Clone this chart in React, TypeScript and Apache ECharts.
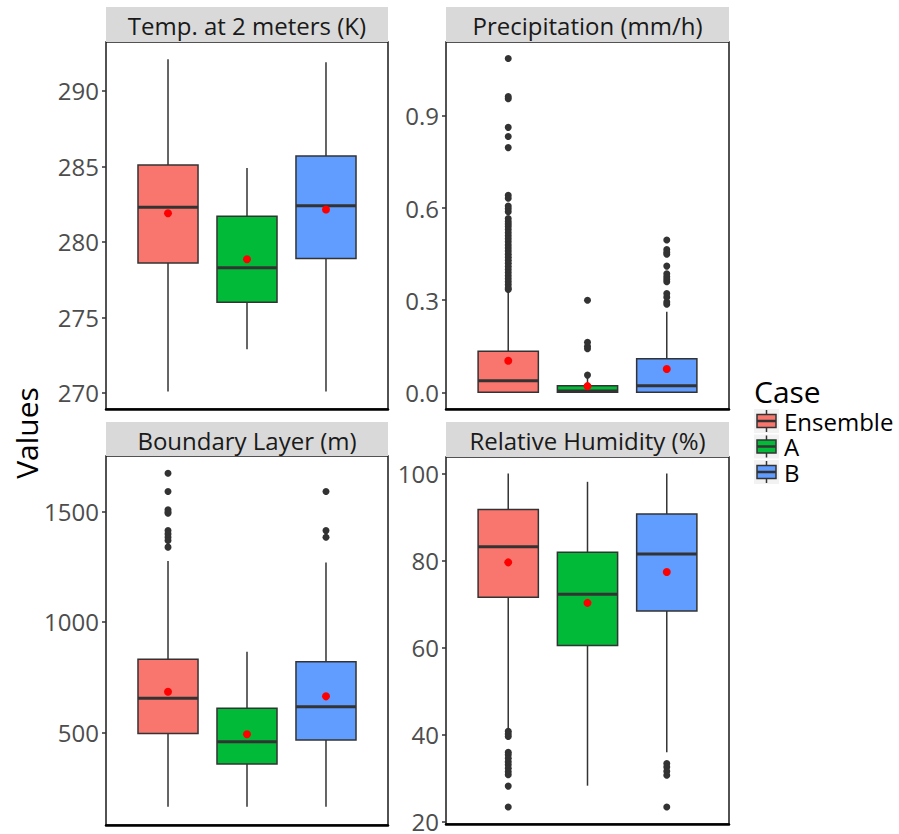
import React, { useEffect, useRef } from "react";
import * as echarts from "echarts";

// ---------- data ----------
const cases = ["Ensemble", "A", "B"];
const caseColors = ["#F8766D", "#00BA38", "#619CFF"];
const panelTitles = [
  "Temp. at 2 meters (K)",
  "Precipitation (mm/h)",
  "Boundary Layer (m)",
  "Relative Humidity (%)",
];

// [lower whisker, Q1, median, Q3, upper whisker] for Ensemble, A, B
const tempStats = [
  [270.1, 278.6, 282.3, 285.1, 292.1],
  [272.9, 276.0, 278.3, 281.7, 284.9],
  [270.1, 278.9, 282.4, 285.7, 291.9],
];
const tempMeans = [281.9, 278.85, 282.15];
const tempOutliers: number[][] = [[], [], []];
const tempTicks = [270, 275, 280, 285, 290];
const tempRange = [268.94, 293.24];

const precipStats = [
  [0, 0, 0.038, 0.134, 0.33],
  [0, 0, 0.004, 0.021, 0.05],
  [0, 0, 0.021, 0.109, 0.262],
];
const precipMeans = [0.103, 0.02, 0.076];
const precipOutliers: number[][] = [
  [1.087, 0.963, 0.956, 0.863, 0.833, 0.797, 0.642, 0.632, 0.607, 0.598, 0.588,
    0.566, 0.556, 0.548, 0.54, 0.53, 0.52, 0.51, 0.5, 0.49, 0.48, 0.47, 0.46,
    0.45, 0.44, 0.43, 0.42, 0.41, 0.4, 0.39, 0.38, 0.37, 0.36, 0.35, 0.34, 0.335],
  [0.056, 0.142, 0.15, 0.163, 0.3],
  [0.287, 0.294, 0.31, 0.322, 0.36, 0.368, 0.376, 0.386, 0.411, 0.45, 0.456, 0.465, 0.496],
];
const precipTicks = [0, 0.3, 0.6, 0.9];
const precipRange = [-0.0544, 1.141];

const blStats = [
  [163, 495, 654, 831, 1276],
  [163, 356, 457, 609, 865],
  [163, 465, 616, 820, 1269],
];
const blMeans = [684, 491, 663];
const blOutliers: number[][] = [
  [1674, 1591, 1508, 1498, 1493, 1414, 1399, 1384, 1369, 1339],
  [],
  [1591, 1414, 1384],
];
const blTicks = [500, 1000, 1500];
const blRange = [80, 1752];

const rhStats = [
  [41.2, 71.6, 83.2, 91.75, 100],
  [28.3, 60.5, 72.3, 81.9, 98.1],
  [36.0, 68.4, 81.5, 90.7, 100],
];
const rhMeans = [79.6, 70.3, 77.4];
const rhOutliers: number[][] = [
  [40.8, 40.2, 39.6, 36.0, 35.4, 34.6, 33.8, 33.1, 32.3, 31.5, 30.8, 28.2, 23.4],
  [],
  [33.4, 32.6, 31.6, 30.7, 23.4],
];
const rhTicks = [20, 40, 60, 80, 100];
const rhRange = [19.5, 103.8];

// ---------- layout ----------
const FONT = "Open Sans";
const BOX_W = 0.76;
const X_RANGE = [-0.785, 2.785];

const panels = [
  { stats: tempStats, means: tempMeans, outliers: tempOutliers, ticks: tempTicks, range: tempRange, fmt: (v: number) => String(v) },
  { stats: precipStats, means: precipMeans, outliers: precipOutliers, ticks: precipTicks, range: precipRange, fmt: (v: number) => v.toFixed(1) },
  { stats: blStats, means: blMeans, outliers: blOutliers, ticks: blTicks, range: blRange, fmt: (v: number) => String(v) },
  { stats: rhStats, means: rhMeans, outliers: rhOutliers, ticks: rhTicks, range: rhRange, fmt: (v: number) => String(v) },
];

const grids = [
  { left: 106, top: 42, width: 282, height: 367 },
  { left: 446, top: 42, width: 283, height: 367 },
  { left: 106, top: 456, width: 282, height: 369 },
  { left: 446, top: 457, width: 283, height: 367 },
];
const strips = [
  { x: 106, y: 7, w: 282, h: 35 },
  { x: 446, y: 7, w: 283, h: 35 },
  { x: 106, y: 422, w: 282, h: 34 },
  { x: 446, y: 422, w: 283, h: 35 },
];

const renderBox = (params: any, api: any) => {
  const x = api.value(0);
  const lo = api.coord([x, api.value(1)]);
  const q1 = api.coord([x, api.value(2)]);
  const med = api.coord([x, api.value(3)]);
  const q3 = api.coord([x, api.value(4)]);
  const hi = api.coord([x, api.value(5)]);
  const ci = api.value(6);
  const half = api.size([BOX_W, 0])[0] / 2;
  const cx = lo[0];
  const stroke = "#333333";
  return {
    type: "group",
    children: [
      { type: "line", shape: { x1: cx, y1: hi[1], x2: cx, y2: q3[1] }, style: { stroke, lineWidth: 1.5 } },
      { type: "line", shape: { x1: cx, y1: q1[1], x2: cx, y2: lo[1] }, style: { stroke, lineWidth: 1.5 } },
      {
        type: "rect",
        shape: { x: cx - half, y: q3[1], width: half * 2, height: Math.max(q1[1] - q3[1], 0.5) },
        style: { fill: caseColors[ci], stroke, lineWidth: 1.5 },
      },
      { type: "line", shape: { x1: cx - half, y1: med[1], x2: cx + half, y2: med[1] }, style: { stroke, lineWidth: 3 } },
    ],
  };
};

export default function App() {
  const ref = useRef<HTMLDivElement>(null);
  useEffect(() => {
    if (!ref.current) return;
    const chart = echarts.init(ref.current, null, { renderer: "svg" });

    const xAxis = grids.map((_, i) => ({
      type: "value",
      gridIndex: i,
      min: X_RANGE[0],
      max: X_RANGE[1],
      position: "bottom",
      splitLine: { show: false },
      axisTick: { show: false },
      axisLabel: { show: false },
      axisLine: { show: true, onZero: false, lineStyle: { color: "#000000", width: 2.5 } },
    }));
    const yAxis = panels.map((p, i) => ({
      type: "value",
      gridIndex: i,
      min: p.range[0],
      max: p.range[1],
      position: "left",
      splitLine: { show: false },
      axisLine: { show: false, onZero: false },
      axisTick: {
        show: true,
        length: 4,
        customValues: p.ticks,
        lineStyle: { color: "#333333", width: 1.5 },
      },
      axisLabel: {
        customValues: p.ticks,
        formatter: p.fmt,
        fontSize: 24,
        lineHeight: 20,
        fontFamily: FONT,
        color: "#4d4d4d",
        margin: 7,
      },
    }));

    const series: any[] = [];
    panels.forEach((p, i) => {
      series.push({
        type: "custom",
        xAxisIndex: i,
        yAxisIndex: i,
        renderItem: renderBox,
        encode: { x: 0, y: [1, 5] },
        data: p.stats.map((s, ci) => [ci, ...s, ci]),
        z: 2,
      });
      series.push({
        type: "scatter",
        xAxisIndex: i,
        yAxisIndex: i,
        symbolSize: 7,
        itemStyle: { color: "#333333", opacity: 1 },
        data: p.outliers.flatMap((arr, ci) => arr.map((v) => [ci, v])),
        z: 3,
      });
      series.push({
        type: "scatter",
        xAxisIndex: i,
        yAxisIndex: i,
        symbolSize: 8,
        itemStyle: { color: "#ff0000", opacity: 1 },
        data: p.means.map((v, ci) => [ci, v]),
        z: 4,
      });
    });

    const graphics: any[] = [];
    strips.forEach((s, i) => {
      graphics.push({
        type: "rect",
        shape: { x: s.x, y: s.y, width: s.w, height: s.h },
        style: { fill: "#d9d9d9" },
      });
      graphics.push({
        type: "text",
        x: s.x + s.w / 2,
        y: s.y + s.h / 2 + 1,
        style: {
          text: panelTitles[i],
          fontSize: 24,
          lineHeight: 24,
          fontFamily: FONT,
          fill: "#1a1a1a",
          align: "center",
          verticalAlign: "middle",
        },
      });
    });
    graphics.push({
      type: "text",
      x: 26,
      y: 433,
      rotation: Math.PI / 2,
      style: {
        text: "Values",
        fontSize: 30,
        lineHeight: 30,
        fontFamily: FONT,
        fill: "#000",
        align: "center",
        verticalAlign: "middle",
      },
    });
    graphics.push({
      type: "text",
      x: 754,
      y: 391,
      style: {
        text: "Case",
        fontSize: 30,
        lineHeight: 26,
        fontFamily: FONT,
        fill: "#000",
        align: "left",
        verticalAlign: "middle",
      },
    });
    cases.forEach((c, ci) => {
      const cy = 421 + ci * 25.5;
      graphics.push({
        type: "rect",
        shape: { x: 754, y: cy - 12, width: 25, height: 24 },
        style: { fill: "#f2f2f2" },
      });
      graphics.push({
        type: "line",
        shape: { x1: 766.5, y1: cy - 11, x2: 766.5, y2: cy + 11 },
        style: { stroke: "#333333", lineWidth: 1.5 },
      });
      graphics.push({
        type: "rect",
        shape: { x: 757, y: cy - 6.5, width: 19, height: 13 },
        style: { fill: caseColors[ci], stroke: "#333333", lineWidth: 1.5 },
      });
      graphics.push({
        type: "line",
        shape: { x1: 757, y1: cy, x2: 776, y2: cy },
        style: { stroke: "#333333", lineWidth: 2.5 },
      });
      graphics.push({
        type: "text",
        x: 784,
        y: cy,
        style: {
          text: c,
          fontSize: 24,
          lineHeight: 22,
          fontFamily: FONT,
          fill: "#000",
          align: "left",
          verticalAlign: "middle",
        },
      });
    });

    chart.setOption({
      animation: false,
      backgroundColor: "#ffffff",
      grid: grids.map((g) => ({
        ...g,
        show: true,
        backgroundColor: "#ffffff",
        borderColor: "#1a1a1a",
        borderWidth: 1.5,
        containLabel: false,
      })),
      xAxis,
      yAxis,
      series,
      graphic: graphics,
    });
    return () => chart.dispose();
  }, []);

  return (
    <div
      ref={ref}
      style={{ position: "absolute", left: 0, top: 0, width: 899, height: 834 }}
    />
  );
}
